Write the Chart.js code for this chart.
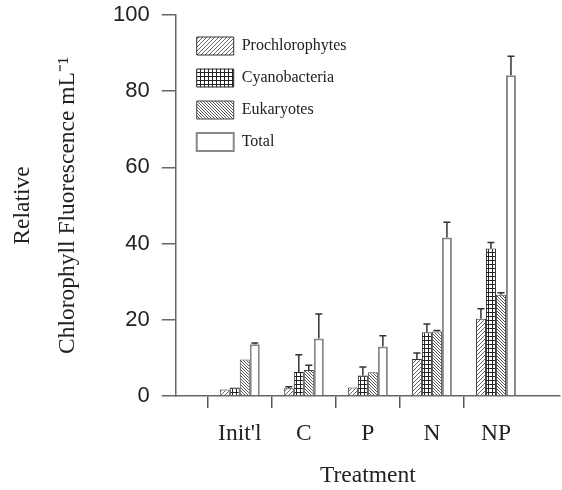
<!DOCTYPE html>
<html lang="en">
<head>
  <meta charset="UTF-8" />
  <title>Relative Chlorophyll Fluorescence</title>
  <script src="https://cdn.jsdelivr.net/npm/chart.js"></script>
  <style>
    html, body { margin: 0; padding: 0; background: #fff; }
    #wrap { width: 562px; height: 490px; }
  </style>
</head>
<body>
  <div id="wrap"><canvas id="chart" width="562" height="490"></canvas></div>

  <script>
    // empty slots at both ends so the axis starts one step left of Init'l
    const treatments = ['', "Init'l", 'C', 'P', 'N', 'NP', ''];
    const prochlorophytes = [null, 1.7, 2.0, 2.2, 9.7, 20.3, null];
    const cyanobacteria = [null, 2.2, 6.3, 5.4, 16.7, 38.7, null];
    const eukaryotes = [null, 9.6, 6.8, 6.2, 16.9, 26.6, null];
    const total = [null, 13.6, 15.1, 13.0, 41.6, 84.2, null];
    // upper error (added on top of the bar value)
    const prochlorophytesErr = [null, 0, 0.4, 0, 1.6, 2.6, null];
    const cyanobacteriaErr = [null, 0, 4.5, 2.2, 2.2, 1.6, null];
    const eukaryotesErr = [null, 0, 1.3, 0, 0.3, 0.5, null];
    const totalErr = [null, 0.3, 6.4, 2.8, 4.0, 5.0, null];
    const yTicks = [0, 20, 40, 60, 80, 100];

    function makePattern(kind) {
      const s = kind === 'back' ? 3 : 4;
      const c = document.createElement('canvas');
      c.width = s; c.height = s;
      const g = c.getContext('2d');
      g.fillStyle = '#fff';
      g.fillRect(0, 0, s, s);
      g.lineWidth = 1;
      if (kind === 'grid') {
        g.strokeStyle = '#222';
        g.beginPath();
        g.moveTo(0, 0.5); g.lineTo(s, 0.5);
        g.moveTo(0.5, 0); g.lineTo(0.5, s);
        g.stroke();
      } else if (kind === 'fwd') {
        g.strokeStyle = '#666';
        g.beginPath();
        g.moveTo(0, s); g.lineTo(s, 0);
        g.moveTo(-1, 1); g.lineTo(1, -1);
        g.moveTo(s - 1, s + 1); g.lineTo(s + 1, s - 1);
        g.stroke();
      } else {
        g.strokeStyle = '#555';
        g.beginPath();
        g.moveTo(0, 0); g.lineTo(s, s);
        g.moveTo(-1, s - 1); g.lineTo(1, s + 1);
        g.moveTo(s - 1, -1); g.lineTo(s + 1, 1);
        g.stroke();
      }
      return g.createPattern(c, 'repeat');
    }

    const errors = [prochlorophytesErr, cyanobacteriaErr, eukaryotesErr, totalErr];

    const errorBars = {
      id: 'errorBars',
      afterDatasetsDraw(chart) {
        const ctx = chart.ctx;
        const y = chart.scales.y;
        ctx.save();
        ctx.strokeStyle = '#333';
        ctx.lineWidth = 1.5;
        chart.data.datasets.forEach((ds, i) => {
          const meta = chart.getDatasetMeta(i);
          meta.data.forEach((bar, j) => {
            const v = ds.data[j];
            const e = errors[i][j];
            if (v == null || !e) return;
            const top = y.getPixelForValue(v + e);
            ctx.beginPath();
            ctx.moveTo(bar.x, bar.y);
            ctx.lineTo(bar.x, top);
            ctx.moveTo(bar.x - 3.5, top);
            ctx.lineTo(bar.x + 3.5, top);
            ctx.stroke();
          });
        });
        ctx.restore();
      }
    };

    // nudge the in-plot legend to where the original has it
    const legendShift = {
      id: 'legendShift',
      afterLayout(chart) {
        if (chart.legend) {
          chart.legend.left += 7;
          chart.legend.top += 23;
        }
      }
    };

    const serif = 'Liberation Serif, Times New Roman, serif';

    new Chart(document.getElementById('chart'), {
      type: 'bar',
      data: {
        labels: treatments,
        datasets: [
          { label: 'Prochlorophytes', data: prochlorophytes, backgroundColor: makePattern('fwd'), borderColor: '#333', borderWidth: 1 },
          { label: 'Cyanobacteria', data: cyanobacteria, backgroundColor: makePattern('grid'), borderColor: '#222', borderWidth: 1 },
          { label: 'Eukaryotes', data: eukaryotes, backgroundColor: makePattern('back'), borderColor: '#444', borderWidth: 1 },
          { label: 'Total', data: total, backgroundColor: '#fff', borderColor: '#888', borderWidth: 2 }
        ]
      },
      plugins: [errorBars, legendShift],
      options: {
        responsive: false,
        animation: false,
        layout: { padding: { top: 15, right: 2, bottom: 0, left: 0 } },
        datasets: { bar: { categoryPercentage: 0.625, barPercentage: 1 } },
        plugins: {
          tooltip: { enabled: false },
          legend: {
            position: 'chartArea',
            align: 'start',
            labels: {
              boxWidth: 37,
              boxHeight: 18,
              padding: 14,
              color: '#222',
              font: { family: serif, size: 16 }
            }
          }
        },
        scales: {
          x: {
            offset: false,
            border: { color: '#666', width: 1.5 },
            grid: {
              drawOnChartArea: false,
              tickLength: 12,
              color: (c) => (c.index === treatments.length - 1 ? 'rgba(0,0,0,0)' : '#555'),
              lineWidth: 1.5
            },
            ticks: { color: '#222', padding: 0, font: { family: serif, size: 23.5, lineHeight: 2.213 } },
            title: {
              display: true,
              text: 'Treatment',
              color: '#222',
              padding: { top: 1.8, bottom: 0 },
              font: { family: serif, size: 23.5 }
            }
          },
          y: {
            min: 0,
            max: 100,
            border: { color: '#666', width: 1.5 },
            grid: { drawOnChartArea: false, tickLength: 14, color: '#666', lineWidth: 1.5 },
            afterBuildTicks: (axis) => { axis.ticks = yTicks.map(v => ({ value: v })); },
            ticks: { color: '#222', padding: 12, font: { family: 'Liberation Sans, Arial, sans-serif', size: 22, lineHeight: 0.25 } },
            title: {
              display: true,
              text: ['Relative', 'Chlorophyll Fluorescence mL⁻¹'],
              color: '#222',
              padding: { top: 0, bottom: 11 },
              font: { family: serif, size: 23.5, lineHeight: 1.915 }
            }
          }
        }
      }
    });
  </script>
</body>
</html>
